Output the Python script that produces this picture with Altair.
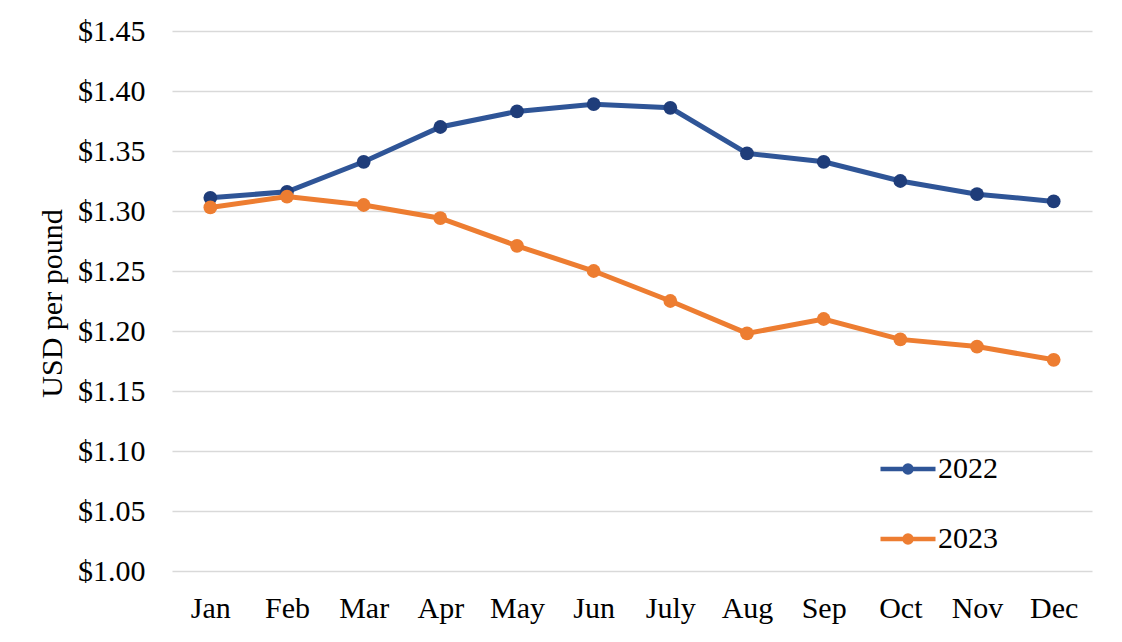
import altair as alt
import pandas as pd

months = ["Jan", "Feb", "Mar", "Apr", "May", "Jun", "July", "Aug", "Sep", "Oct", "Nov", "Dec"]
price_2022 = [1.311, 1.316, 1.341, 1.370, 1.383, 1.389, 1.386, 1.348, 1.341, 1.325, 1.314, 1.308]
price_2023 = [1.303, 1.312, 1.305, 1.294, 1.271, 1.250, 1.225, 1.198, 1.210, 1.193, 1.187, 1.176]
years = ["2022", "2023"]
y_ticks = [1.00, 1.05, 1.10, 1.15, 1.20, 1.25, 1.30, 1.35, 1.40, 1.45]

rows = []
for m, v in zip(months, price_2022):
    rows.append({"month": m, "year": "2022", "price": v})
for m, v in zip(months, price_2023):
    rows.append({"month": m, "year": "2023", "price": v})
df = pd.DataFrame(rows)

FONT = "Liberation Serif"

x_enc = alt.X("month:N", sort=months, title=None,
              axis=alt.Axis(labelAngle=0, labelFont=FONT, labelFontSize=30, labelColor="#000000",
                            labelPadding=22, domain=False, ticks=False, grid=False))
y_enc = alt.Y("price:Q", title="USD per pound",
              scale=alt.Scale(domain=[1.0, 1.45], nice=False, zero=False),
              axis=alt.Axis(values=y_ticks, format="$.2f", labelFont=FONT, labelFontSize=30,
                            labelColor="#000000", labelPadding=27, domain=False, ticks=False,
                            grid=True, gridColor="#D9D9D9", gridWidth=1.5,
                            titleFont=FONT, titleFontSize=30, titleFontWeight="normal",
                            titleColor="#000000", titleAngle=-90, titleX=-111, titleY=272,
                            titleAlign="center", titleBaseline="alphabetic"))

legend_symbol = "M-1,0L1,0M0.13,0A0.13,0.13,0,1,1,-0.13,0A0.13,0.13,0,1,1,0.13,0"

lines = alt.Chart(df).mark_line(strokeWidth=5).encode(
    x=x_enc,
    y=y_enc,
    color=alt.Color("year:N", scale=alt.Scale(domain=years, range=["#2F5597", "#ED7D31"]),
                    legend=alt.Legend(title=None, orient="none", legendX=706, legendY=408,
                                      symbolType=legend_symbol, symbolSize=3025,
                                      symbolStrokeWidth=4.5, labelFont=FONT, labelFontSize=30,
                                      labelColor="#000000", labelOffset=0, rowPadding=25,
                                      padding=0)),
)

points = alt.Chart(df).mark_circle(size=190, opacity=1).encode(
    x=x_enc,
    y=y_enc,
    color=alt.Color("year:N", scale=alt.Scale(domain=years, range=["#1F3D7A", "#ED7D31"]),
                    legend=None),
)

chart = alt.layer(lines, points).resolve_scale(color="independent").properties(
    width=920,
    height=540,
    autosize=alt.AutoSizeParams(type="none"),
    padding={"left": 164, "top": 23, "right": 22, "bottom": 63},
    background="white",
).configure_view(stroke=None)

chart.save("out.html", embed_options={"renderer": "svg", "actions": False})
